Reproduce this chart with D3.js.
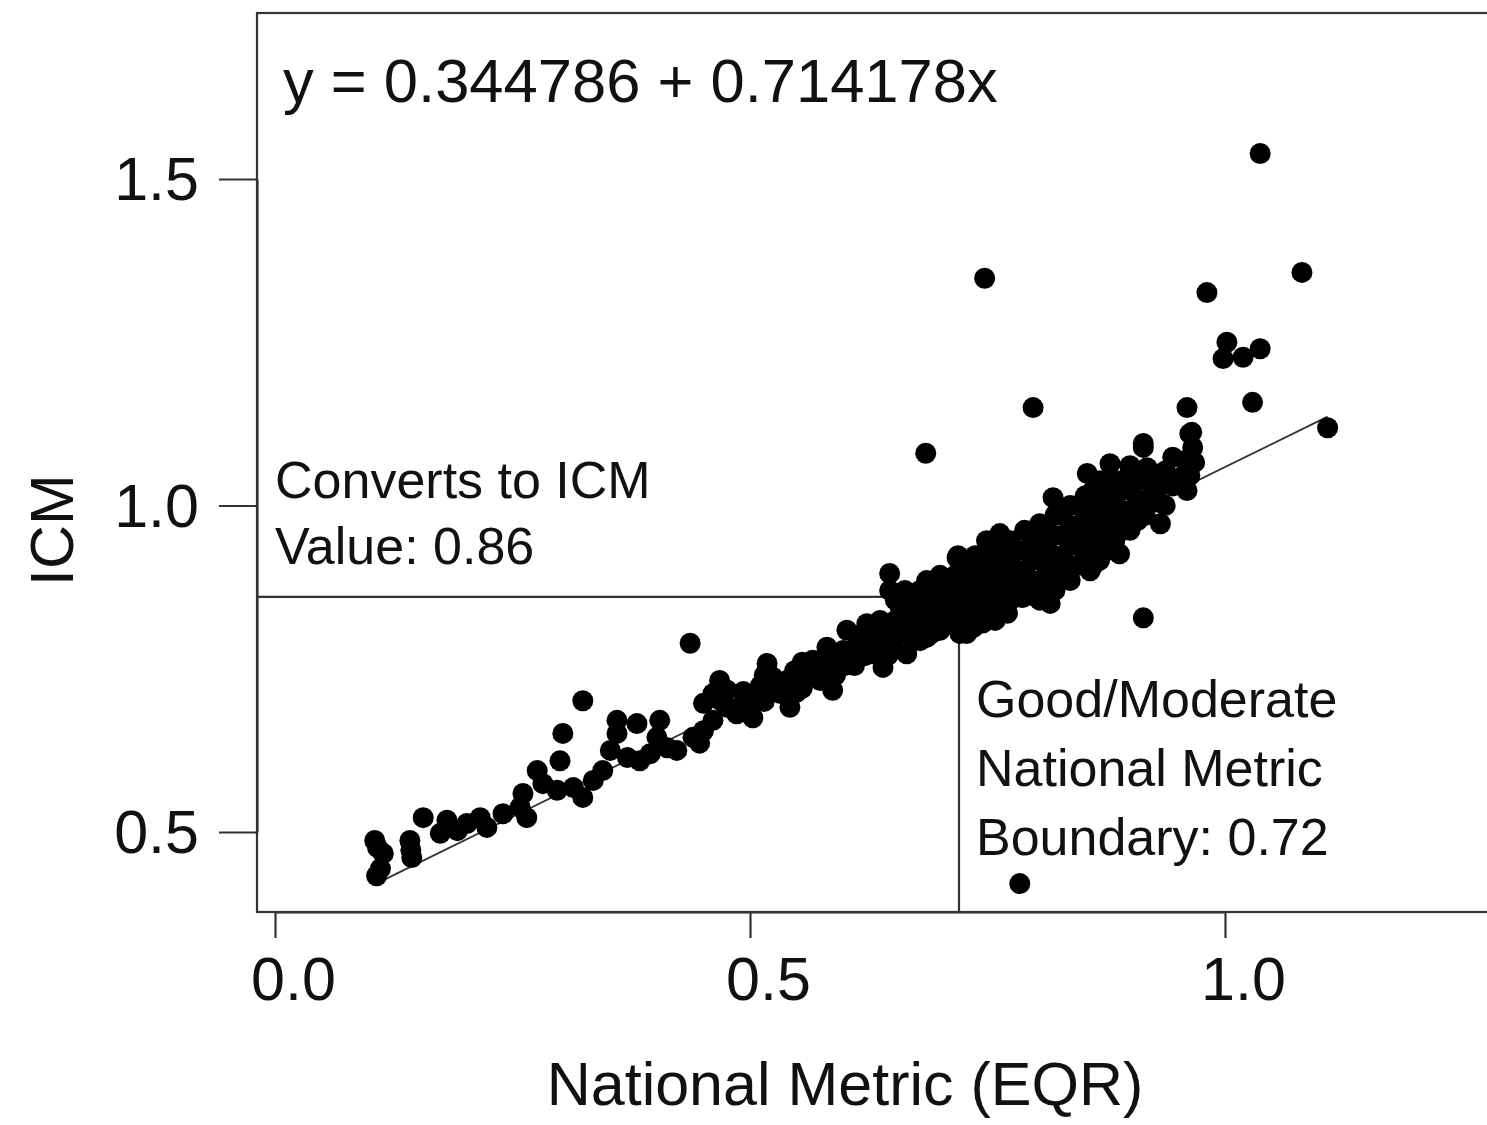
<!DOCTYPE html>
<html>
<head>
<meta charset="utf-8">
<script src="https://cdn.jsdelivr.net/npm/d3@7"></script>
<style>
  body { margin: 0; background: #fff; }
  svg { display: block; }
  text { font-family: "Liberation Sans", Arial, sans-serif; fill: #111; }
</style>
</head>
<body>
<svg id="chart" width="1487" height="1125"></svg>
<script>
// National metric (EQR) for each site
const nationalMetric = [
  0.107,0.111,0.105,0.114,0.108,0.142,0.144,0.143,0.156,0.174,0.181,0.192,0.202,0.216,0.223,0.240,0.258,0.261,0.265,0.276,
  0.282,0.297,0.300,0.303,0.314,0.324,0.324,0.335,0.345,0.353,0.360,0.360,0.371,0.381,0.384,0.395,0.402,0.405,0.413,0.423,
  0.437,0.447,0.451,0.451,0.461,0.468,0.476,0.486,0.497,0.503,
  0.440,0.489,0.507,0.518,0.524,0.532,0.539,0.542,0.556,0.566,0.574,0.581,0.587,0.592,0.602,0.605,0.616,0.623,0.629,0.637,
  0.640,0.647,0.647,0.651,0.658,0.665,0.672,0.679,0.686,0.686,0.693,0.703,0.707,0.718,0.724,0.728,0.735,0.742,0.749,0.756,0.760,
  0.461,0.476,0.511,0.549,0.563,0.579,0.598,0.613,0.626,0.655,0.674,0.679,0.700,0.711,0.716,0.732,0.747,0.753,0.663,0.695,
  0.719,0.721,0.763,0.753,0.805,0.819,0.816,0.826,0.855,0.861,0.879,0.897,0.914,0.918,0.928,0.932,0.945,0.953,0.960,0.963,
  0.966,0.889,0.858,0.787,0.771,0.735,
  0.774,0.774,0.774,0.774,0.789,0.789,0.789,0.789,0.805,0.805,0.805,0.805,0.821,0.821,0.821,0.821,0.821,
  0.837,0.837,0.837,0.837,0.837,0.853,0.853,0.853,0.853,0.868,0.868,0.868,0.868,0.868,0.884,0.884,0.884,0.884,
  0.900,0.900,0.900,0.900,0.916,0.916,0.916,0.737,0.737,0.737,0.737,0.758,0.758,0.758,0.937,0.937,0.958,
  0.653,0.653,0.668,0.668,0.668,0.684,0.684,0.700,0.700,0.700,0.716,0.716,0.716,0.726,0.726,0.726,
  0.526,0.547,0.584,0.600,0.621,0.632,
  0.781,0.781,0.781,0.797,0.797,0.797,0.797,0.813,0.813,0.813,0.813,0.829,0.829,0.829,0.829,
  0.845,0.845,0.845,0.845,0.861,0.861,0.861,0.861,0.876,0.876,0.876,0.876,0.892,0.892,0.892,
  0.908,0.908,0.908,0.925,0.925,0.945,
  0.660,0.660,0.676,0.676,0.676,0.692,0.692,0.692,0.708,0.708,0.708,0.745,0.745,0.745,0.745,0.765,0.765,0.765,0.765,
  0.515,0.515,0.535,0.555,0.555,0.570,0.590,0.590,0.610,0.610,0.620,0.635,0.635,0.645,0.645,0.470,0.493,
  0.747,0.685,0.798,0.784,0.914,1.037,1.081,0.981,1.002,0.998,1.019,1.037,1.029,0.960,0.965,0.914,1.108,0.968,0.963
];

// Corresponding ICM value for each site
const icm = [
  0.433,0.444,0.487,0.467,0.476,0.487,0.461,0.472,0.522,0.498,0.518,0.502,0.513,0.522,0.507,0.528,0.538,0.559,0.522,0.594,
  0.574,0.564,0.609,0.651,0.568,0.701,0.553,0.579,0.594,0.625,0.671,0.651,0.614,0.666,0.609,0.620,0.645,0.671,0.629,0.625,
  0.789,0.636,0.655,0.697,0.712,0.732,0.691,0.681,0.701,0.675,
  0.645,0.691,0.706,0.758,0.737,0.712,0.732,0.691,0.737,0.763,0.732,0.783,0.717,0.758,0.809,0.763,0.789,0.819,0.773,0.824,
  0.752,0.896,0.870,0.793,0.844,0.773,0.824,0.870,0.885,0.798,0.844,0.865,0.824,0.920,0.850,0.804,0.885,0.835,0.946,0.916,0.859,
  0.671,0.717,0.724,0.714,0.740,0.755,0.778,0.801,0.793,0.816,0.847,0.793,0.809,0.855,0.893,0.862,0.855,0.893,0.870,0.870,
  0.923,0.804,0.957,0.936,0.972,1.012,0.850,0.997,1.049,1.023,1.064,1.043,1.089,1.058,1.023,0.972,1.074,1.043,1.023,1.110,
  1.089,0.926,0.900,0.859,0.835,0.813,
  0.946,0.916,0.885,0.855,0.962,0.931,0.900,0.870,0.946,0.916,0.885,0.855,0.985,0.954,0.923,0.893,0.870,
  1.000,0.969,0.939,0.908,0.885,1.015,0.985,0.954,0.923,1.038,1.008,0.977,0.946,0.916,1.038,1.008,0.977,0.946,
  1.061,1.023,0.992,0.962,1.038,1.008,0.985,0.923,0.893,0.855,0.832,0.885,0.855,0.824,1.053,1.000,1.069,
  0.855,0.824,0.862,0.832,0.801,0.855,0.824,0.893,0.862,0.832,0.870,0.839,0.816,0.900,0.870,0.832,
  0.717,0.747,0.747,0.755,0.770,0.801,
  0.931,0.900,0.870,0.946,0.916,0.885,0.862,0.962,0.931,0.900,0.870,0.985,0.954,0.923,0.893,
  1.000,0.969,0.939,0.908,1.000,0.969,0.939,0.908,1.023,0.992,0.962,0.931,1.023,0.992,0.962,
  1.038,1.008,0.977,1.040,1.005,1.030,
  0.840,0.810,0.860,0.835,0.810,0.860,0.830,0.805,0.880,0.850,0.820,0.910,0.875,0.845,0.820,0.935,0.905,0.870,0.845,
  0.740,0.700,0.725,0.720,0.760,0.750,0.770,0.740,0.780,0.755,0.805,0.780,0.810,0.810,0.770,0.700,0.715,
  1.348,1.080,1.150,0.421,0.828,1.539,1.357,1.326,1.250,1.225,1.227,1.240,1.158,1.150,1.112,1.095,1.119,1.066,1.046
];

const xTicks = [0.0, 0.5, 1.0];
const yTicks = [0.5, 1.0, 1.5];

// Fitted regression: ICM = intercept + slope * EQR
const intercept = 0.344786;
const slope = 0.714178;

// Class boundary and its converted ICM value
const boundaryEQR = 0.72;
const boundaryICM = 0.86;

const equationLabel = "y = 0.344786 + 0.714178x";
const convertLabel = ["Converts to ICM", "Value: 0.86"];
const boundaryLabel = ["Good/Moderate", "National Metric", "Boundary: 0.72"];

const points = nationalMetric.map((v, i) => ({ x: v, y: icm[i] }));

const svg = d3.select("#chart");

const box = { left: 257, top: 13, right: 1500, bottom: 912 };
const x = d3.scaleLinear().domain([0, 1]).range([275, 1225]);
const y = d3.scaleLinear().domain([0.5, 1.5]).range([832, 179]);

const lineInk = "#333";

// Plot frame
svg.append("rect")
  .attr("x", box.left).attr("y", box.top)
  .attr("width", box.right - box.left).attr("height", box.bottom - box.top)
  .attr("fill", "none").attr("stroke", lineInk).attr("stroke-width", 2.2);

// X axis
const xAxis = svg.append("g")
  .attr("transform", `translate(0,${box.bottom})`)
  .call(d3.axisBottom(x).tickValues(xTicks).tickFormat(d3.format(".1f")).tickSize(26).tickSizeOuter(0));
xAxis.select(".domain").attr("stroke", lineInk).attr("stroke-width", 2.2);
xAxis.selectAll(".tick line").attr("stroke", lineInk).attr("stroke-width", 2.2);
xAxis.selectAll(".tick text")
  .attr("y", 88).attr("dy", 0).attr("dx", 18)
  .style("font-size", "61px").style("font-family", "'Liberation Sans', Arial, sans-serif").attr("fill", "#111");

// Y axis
const yAxis = svg.append("g")
  .attr("transform", `translate(${box.left},0)`)
  .call(d3.axisLeft(y).tickValues(yTicks).tickFormat(d3.format(".1f")).tickSize(38).tickSizeOuter(0));
yAxis.select(".domain").attr("stroke", lineInk).attr("stroke-width", 2.2);
yAxis.selectAll(".tick line").attr("stroke", lineInk).attr("stroke-width", 2.2);
yAxis.selectAll(".tick text")
  .attr("x", -58).attr("dy", "0.34em")
  .style("font-size", "61px").style("font-family", "'Liberation Sans', Arial, sans-serif").attr("fill", "#111");

// Axis titles
svg.append("text")
  .attr("x", 845).attr("y", 1105)
  .attr("text-anchor", "middle")
  .style("font-size", "61px")
  .text("National Metric (EQR)");

svg.append("text")
  .attr("transform", "translate(73,530) rotate(-90)")
  .attr("text-anchor", "middle")
  .style("font-size", "61px")
  .text("ICM");

// Reference lines for the class boundary
svg.append("line")
  .attr("x1", box.left).attr("x2", x(boundaryEQR))
  .attr("y1", y(boundaryICM)).attr("y2", y(boundaryICM))
  .attr("stroke", lineInk).attr("stroke-width", 2.2);
svg.append("line")
  .attr("x1", x(boundaryEQR)).attr("x2", x(boundaryEQR))
  .attr("y1", box.bottom).attr("y2", y(boundaryICM))
  .attr("stroke", lineInk).attr("stroke-width", 2.2);

// Regression line across the observed range
const xr = d3.extent(nationalMetric);
const fit = xr.map(v => ({ x: v, y: intercept + slope * v }));
svg.append("path")
  .datum(fit)
  .attr("fill", "none").attr("stroke", lineInk).attr("stroke-width", 1.8)
  .attr("d", d3.line().x(d => x(d.x)).y(d => y(d.y)));

// Sites
svg.append("g")
  .selectAll("circle")
  .data(points)
  .join("circle")
  .attr("cx", d => x(d.x))
  .attr("cy", d => y(d.y))
  .attr("r", 10.5)
  .attr("fill", "#000");

// Annotations
svg.append("text")
  .attr("x", 283).attr("y", 102)
  .style("font-size", "61.5px")
  .text(equationLabel);

svg.append("g").selectAll("text")
  .data(convertLabel)
  .join("text")
  .attr("x", 275).attr("y", (d, i) => 498 + i * 66)
  .style("font-size", "52px")
  .text(d => d);

svg.append("g").selectAll("text")
  .data(boundaryLabel)
  .join("text")
  .attr("x", 976).attr("y", (d, i) => 717 + i * 69)
  .style("font-size", "52px")
  .text(d => d);
</script>
</body>
</html>
